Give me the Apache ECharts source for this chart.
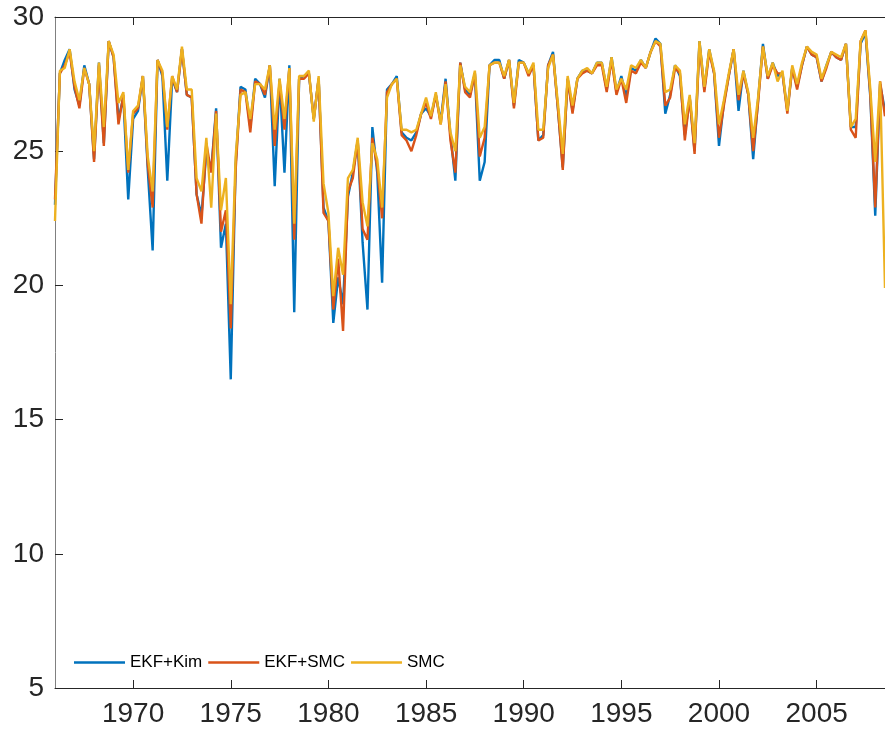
<!DOCTYPE html>
<html>
<head>
<meta charset="utf-8">
<script src="https://cdn.jsdelivr.net/npm/echarts@6/dist/echarts.min.js"></script>
<style>
  html, body { margin: 0; padding: 0; background: #fff; }
  #chart { width: 885px; height: 735px; }
</style>
</head>
<body>
<div id="chart"></div>
<script>
  // quarterly series, first point 1966 Q1, step 0.25 year
  const startYear = 1966;
  const xTicks = [1970, 1975, 1980, 1985, 1990, 1995, 2000, 2005];
  const yTicks = [5, 10, 15, 20, 25, 30];

  const ekfKim = [
    23.0, 27.9, 28.4, 28.8, 27.3, 26.7, 28.2, 27.5, 24.7, 28.3,
    25.3, 29.1, 28.5, 26.2, 27.0, 23.2, 26.2, 26.5, 27.8, 24.3,
    21.3, 28.4, 27.8, 23.9, 27.7, 27.2, 28.8, 27.1, 27.0, 23.4,
    22.6, 25.0, 24.3, 26.6, 21.4, 22.3, 16.5, 24.5, 27.4, 27.3,
    25.9, 27.7, 27.5, 27.0, 28.2, 23.7, 27.7, 24.2, 28.2, 19.0,
    27.7, 27.8, 27.9, 26.2, 27.7, 22.9, 22.4, 18.6, 20.3, 19.3,
    23.3, 24.2, 25.4, 21.6, 19.1, 25.9, 24.2, 20.1, 27.3, 27.5,
    27.8, 25.7, 25.5, 25.4, 25.7, 26.4, 26.6, 26.3, 27.1, 26.1,
    27.7, 25.6, 23.9, 28.3, 27.3, 27.1, 27.9, 23.9, 24.6, 28.2,
    28.4, 28.4, 27.7, 28.4, 26.7, 28.4, 28.3, 27.9, 28.2, 25.4,
    25.6, 28.2, 28.7, 26.6, 24.4, 27.7, 26.5, 27.7, 28.0, 28.0,
    27.9, 28.3, 28.3, 27.3, 28.5, 27.2, 27.8, 27.0, 28.1, 28.0,
    28.4, 28.1, 28.7, 29.2, 29.0, 26.4, 27.1, 28.2, 27.8, 25.6,
    27.0, 25.0, 29.1, 27.3, 28.8, 27.9, 25.2, 26.8, 27.8, 28.8,
    26.5, 28.0, 27.1, 24.7, 26.9, 29.0, 27.7, 28.3, 27.8, 27.9,
    26.5, 28.1, 27.4, 28.2, 28.9, 28.6, 28.5, 27.6, 28.2, 28.7,
    28.5, 28.4, 29.0, 25.9, 25.9, 29.0, 29.4, 27.0, 22.6, 27.5,
    26.5
  ];

  const ekfSmc = [
    23.2, 27.9, 28.2, 28.7, 27.4, 26.6, 28.1, 27.5, 24.6, 28.2,
    25.2, 29.1, 28.5, 26.0, 27.1, 24.2, 26.4, 26.6, 27.8, 24.5,
    22.9, 28.4, 27.9, 25.8, 27.8, 27.2, 28.8, 27.1, 27.0, 23.4,
    22.3, 25.3, 24.2, 26.5, 22.0, 22.8, 18.4, 24.3, 27.3, 27.2,
    25.7, 27.6, 27.5, 27.1, 28.2, 25.2, 27.6, 25.8, 28.1, 21.7,
    27.7, 27.7, 27.9, 26.2, 27.7, 22.7, 22.4, 19.1, 21.0, 18.3,
    23.5, 24.0, 25.4, 22.1, 21.7, 25.5, 24.4, 22.5, 27.2, 27.5,
    27.7, 25.6, 25.4, 25.0, 25.6, 26.4, 26.8, 26.2, 27.1, 26.0,
    27.6, 25.4, 24.2, 28.3, 27.2, 27.0, 27.9, 24.8, 25.5, 28.2,
    28.3, 28.3, 27.7, 28.4, 26.6, 28.3, 28.3, 27.8, 28.2, 25.4,
    25.5, 28.2, 28.6, 26.6, 24.3, 27.7, 26.4, 27.7, 27.9, 28.0,
    27.9, 28.2, 28.2, 27.2, 28.4, 27.1, 27.7, 26.8, 28.0, 27.9,
    28.3, 28.1, 28.7, 29.1, 28.9, 26.7, 27.0, 28.1, 27.9, 25.4,
    27.0, 24.9, 29.0, 27.2, 28.7, 27.9, 25.5, 26.7, 27.8, 28.8,
    26.9, 27.9, 27.1, 25.0, 26.8, 28.9, 27.7, 28.2, 27.9, 27.9,
    26.4, 28.1, 27.3, 28.2, 28.9, 28.6, 28.5, 27.6, 28.1, 28.7,
    28.5, 28.4, 29.0, 25.8, 25.5, 29.1, 29.5, 27.1, 22.9, 27.6,
    26.3
  ];

  const smc = [
    22.4, 28.0, 28.1, 28.8, 27.6, 26.9, 28.1, 27.5, 25.0, 28.3,
    25.9, 29.1, 28.6, 26.8, 27.2, 24.3, 26.5, 26.7, 27.8, 24.8,
    23.5, 28.4, 28.0, 25.9, 27.8, 27.3, 28.9, 27.3, 27.3, 24.0,
    23.5, 25.5, 22.9, 26.4, 22.8, 24.0, 19.3, 24.8, 27.1, 27.2,
    26.2, 27.5, 27.5, 27.3, 28.2, 25.8, 27.7, 26.2, 28.1, 22.3,
    27.8, 27.8, 28.0, 26.1, 27.8, 23.8, 22.7, 19.6, 21.4, 20.4,
    24.0, 24.3, 25.5, 23.1, 22.2, 25.3, 24.7, 22.9, 27.0, 27.5,
    27.7, 25.8, 25.8, 25.7, 25.8, 26.4, 27.0, 26.3, 27.2, 26.0,
    27.5, 25.7, 25.0, 28.2, 27.4, 27.2, 28.0, 25.5, 25.9, 28.2,
    28.3, 28.3, 27.8, 28.4, 26.8, 28.3, 28.3, 27.9, 28.3, 25.8,
    25.8, 28.1, 28.6, 26.8, 24.9, 27.8, 26.7, 27.7, 28.0, 28.1,
    27.9, 28.3, 28.3, 27.4, 28.5, 27.3, 27.7, 27.3, 28.2, 28.1,
    28.4, 28.1, 28.7, 29.1, 29.0, 27.2, 27.3, 28.2, 28.0, 26.0,
    27.1, 25.3, 29.1, 27.4, 28.8, 28.0, 26.0, 26.9, 27.9, 28.8,
    27.1, 28.0, 27.2, 25.5, 27.0, 28.9, 27.8, 28.3, 27.6, 28.0,
    26.5, 28.2, 27.5, 28.3, 28.9, 28.7, 28.6, 27.7, 28.2, 28.7,
    28.6, 28.5, 29.0, 25.9, 26.2, 29.1, 29.5, 27.3, 24.6, 27.6,
    19.9
  ];

  const names = ['EKF+Kim', 'EKF+SMC', 'SMC'];
  const colors = ['#0072BD', '#D95319', '#EDB120'];

  function pairs(vals) {
    return vals.map((v, i) => [startYear + i * 0.25, v]);
  }

  const font = 'Liberation Sans, Arial, Helvetica, sans-serif';
  const axisColor = '#262626';

  const chart = echarts.init(document.getElementById('chart'));

  chart.setOption({
    animation: false,
    color: colors,
    grid: { left: 55, right: 0, top: 17, bottom: 47 },
    legend: {
      data: names,
      left: 74,
      top: 654,
      padding: 0,
      icon: 'rect',
      itemWidth: 51,
      itemHeight: 2.5,
      itemGap: 6,
      textStyle: { fontSize: 17, color: '#000', fontFamily: font }
    },
    xAxis: [
      {
        type: 'value',
        position: 'bottom',
        min: startYear,
        max: 2008.5,
        axisLine: { show: true, lineStyle: { color: axisColor, width: 1 } },
        axisTick: { show: true, inside: true, length: 8, customValues: xTicks, lineStyle: { color: axisColor } },
        axisLabel: {
          customValues: xTicks,
          formatter: v => String(v),
          fontSize: 28,
          color: axisColor,
          fontFamily: font,
          margin: 12
        },
        splitLine: { show: false }
      },
      {
        type: 'value',
        position: 'top',
        min: startYear,
        max: 2008.5,
        axisLine: { show: true, lineStyle: { color: axisColor, width: 1 } },
        axisTick: { show: true, inside: true, length: 8, customValues: xTicks, lineStyle: { color: axisColor } },
        axisLabel: { show: false },
        splitLine: { show: false }
      }
    ],
    yAxis: {
      type: 'value',
      min: yTicks[0],
      max: yTicks[yTicks.length - 1],
      interval: 5,
      axisLine: { show: true, lineStyle: { color: '#808080', width: 1 } },
      axisTick: { show: true, inside: true, length: 8, lineStyle: { color: axisColor } },
      axisLabel: { fontSize: 28, color: axisColor, fontFamily: font, margin: 11 },
      splitLine: { show: false }
    },
    series: [ekfKim, ekfSmc, smc].map((vals, k) => ({
      name: names[k],
      type: 'line',
      xAxisIndex: 0,
      data: pairs(vals),
      showSymbol: false,
      lineStyle: { width: 2.4, color: colors[k] },
      itemStyle: { color: colors[k] }
    }))
  });
</script>
</body>
</html>
